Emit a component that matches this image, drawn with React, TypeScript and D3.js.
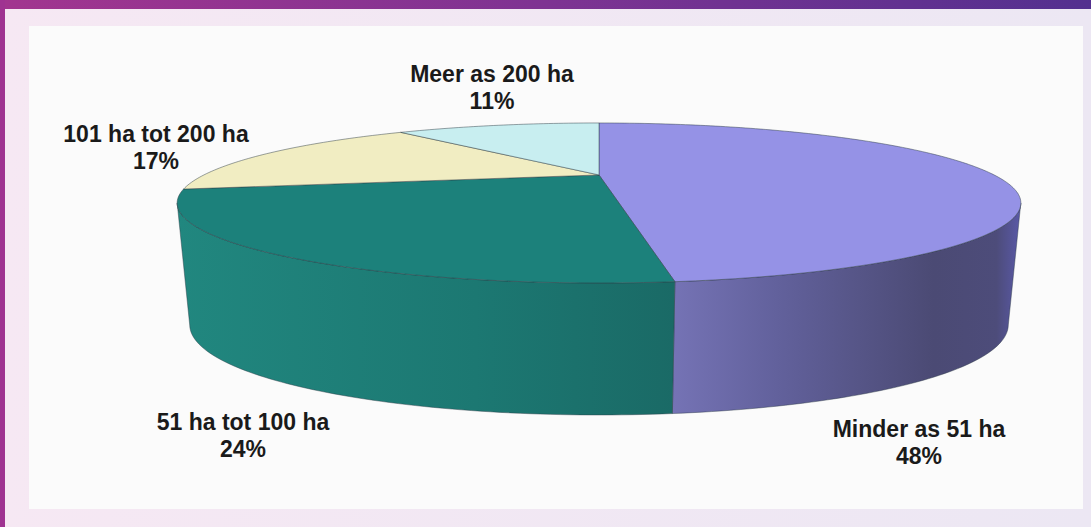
import React from "react";
import * as d3 from "d3";

// ---- data ----
const categories = ["Minder as 51 ha", "51 ha tot 100 ha", "101 ha tot 200 ha", "Meer as 200 ha"];
const values = [48, 24, 17, 11];
const percentLabels = ["48%", "24%", "17%", "11%"];

// ---- styles ----
const topColors = ["#9592e6", "#1c817b", "#f1edc2", "#c8eef0"];
const sideStops: [number, string][][] = [
  [[0, "#7573b5"], [0.3, "#62619c"], [0.75, "#4b4a74"], [0.93, "#4d4c7a"], [1, "#5a59a8"]],
  [[0, "#21877f"], [0.6, "#1c7872"], [1, "#1a6a66"]],
  [[0, "#d8d4a8"], [1, "#c8c49a"]],
  [[0, "#b0d8da"], [1, "#a0c8ca"]],
];
// label anchor layout (text placement)
const labelPos: [number, number][] = [[919, 437], [243, 430], [156, 142], [492, 82]];

const W = 1091, H = 527;
// perspective projection params for the pie
const CX = 599, G = 1129, DEP = 2.857, A = 573, Y0 = -25.6;
const SIDE_K = 1047, SIDE_D = 8.93, VY = 4300;

function projTop(t: number): [number, number] {
  const X = Math.sin(t), Z = Math.cos(t);
  const d = DEP + Z;
  return [CX + (G * X) / d, Y0 + A / d];
}
function projBottom(t: number): [number, number] {
  const [xt, yt] = projTop(t);
  const Z = Math.cos(t);
  const yb = yt + SIDE_K / (SIDE_D + Z);
  const xb = CX + ((xt - CX) * (VY - yb)) / (VY - yt);
  return [xb, yb];
}
const center: [number, number] = [CX, Y0 + A / DEP];

function sample(a: number, b: number): number[] {
  const n = Math.max(2, Math.ceil(((b - a) / (2 * Math.PI)) * 360));
  return d3.range(n + 1).map((i) => a + ((b - a) * i) / n);
}

export default function App() {
  const pie = d3.pie<number>().sort(null).startAngle(0).endAngle(2 * Math.PI);
  const arcs = pie(values);
  const line = d3.line<[number, number]>().x((d) => d[0]).y((d) => d[1]);

  const visA = Math.acos(-1 / DEP);
  const visB = 2 * Math.PI - visA;

  const sides = arcs
    .map((a, i) => {
      const s = Math.max(a.startAngle, visA);
      const e = Math.min(a.endAngle, visB);
      if (e <= s) return null;
      const ts = sample(s, e);
      const topPts = ts.map(projTop);
      const botPts = ts.slice().reverse().map(projBottom);
      const pts = [...topPts, ...botPts];
      const xs = pts.map((p) => p[0]);
      return { i, d: line(pts) + "Z", x1: d3.min(xs)!, x2: d3.max(xs)! };
    })
    .filter(Boolean) as { i: number; d: string; x1: number; x2: number }[];

  const tops = arcs.map((a, i) => {
    const pts = [center, ...sample(a.startAngle, a.endAngle).map(projTop)];
    return { i, d: line(pts) + "Z" };
  });

  const font = "'Liberation Sans', Arial, Helvetica, sans-serif";

  return (
    <svg
      width={W}
      height={H}
      style={{ position: "fixed", left: 0, top: 0, display: "block" }}
    >
      <defs>
        <linearGradient id="bg" x1="0" x2="1" y1="0" y2="0">
          <stop offset="0" stopColor="#f6e8f3" />
          <stop offset="1" stopColor="#ece7f3" />
        </linearGradient>
        <linearGradient id="topbar" x1="0" x2="1" y1="0" y2="0">
          <stop offset="0" stopColor="#a2358f" />
          <stop offset="0.5" stopColor="#7e3392" />
          <stop offset="1" stopColor="#53308f" />
        </linearGradient>
        {sides.map((s) => (
          <linearGradient
            key={s.i}
            id={`side${s.i}`}
            gradientUnits="userSpaceOnUse"
            x1={s.x1}
            x2={s.x2}
            y1={0}
            y2={0}
          >
            {sideStops[s.i].map(([o, c], k) => (
              <stop key={k} offset={o} stopColor={c} />
            ))}
          </linearGradient>
        ))}
      </defs>
      <rect x={0} y={0} width={W} height={H} fill="url(#bg)" />
      <rect x={0} y={0} width={W} height={9} fill="url(#topbar)" />
      <rect x={0} y={0} width={5} height={H} fill="#9f3391" />
      <rect x={29} y={26} width={1054} height={483} fill="#fbfbfb" />

      <g>
        {sides.map((s) => (
          <path
            key={`s${s.i}`}
            d={s.d}
            fill={`url(#side${s.i})`}
            stroke="#2c3a44"
            strokeOpacity={0.55}
            strokeWidth={0.8}
            strokeLinejoin="round"
          />
        ))}
        {tops.map((t) => (
          <path
            key={`t${t.i}`}
            d={t.d}
            fill={topColors[t.i]}
            stroke="#2c3a44"
            strokeOpacity={0.6}
            strokeWidth={0.8}
            strokeLinejoin="round"
          />
        ))}
      </g>

      <g fontFamily={font} fontWeight="bold" fontSize={23} fill="#1a1a1a" textAnchor="middle">
        {categories.map((c, i) => (
          <g key={c}>
            <text x={labelPos[i][0]} y={labelPos[i][1]}>{c}</text>
            <text x={labelPos[i][0]} y={labelPos[i][1] + 27}>{percentLabels[i]}</text>
          </g>
        ))}
      </g>
    </svg>
  );
}
